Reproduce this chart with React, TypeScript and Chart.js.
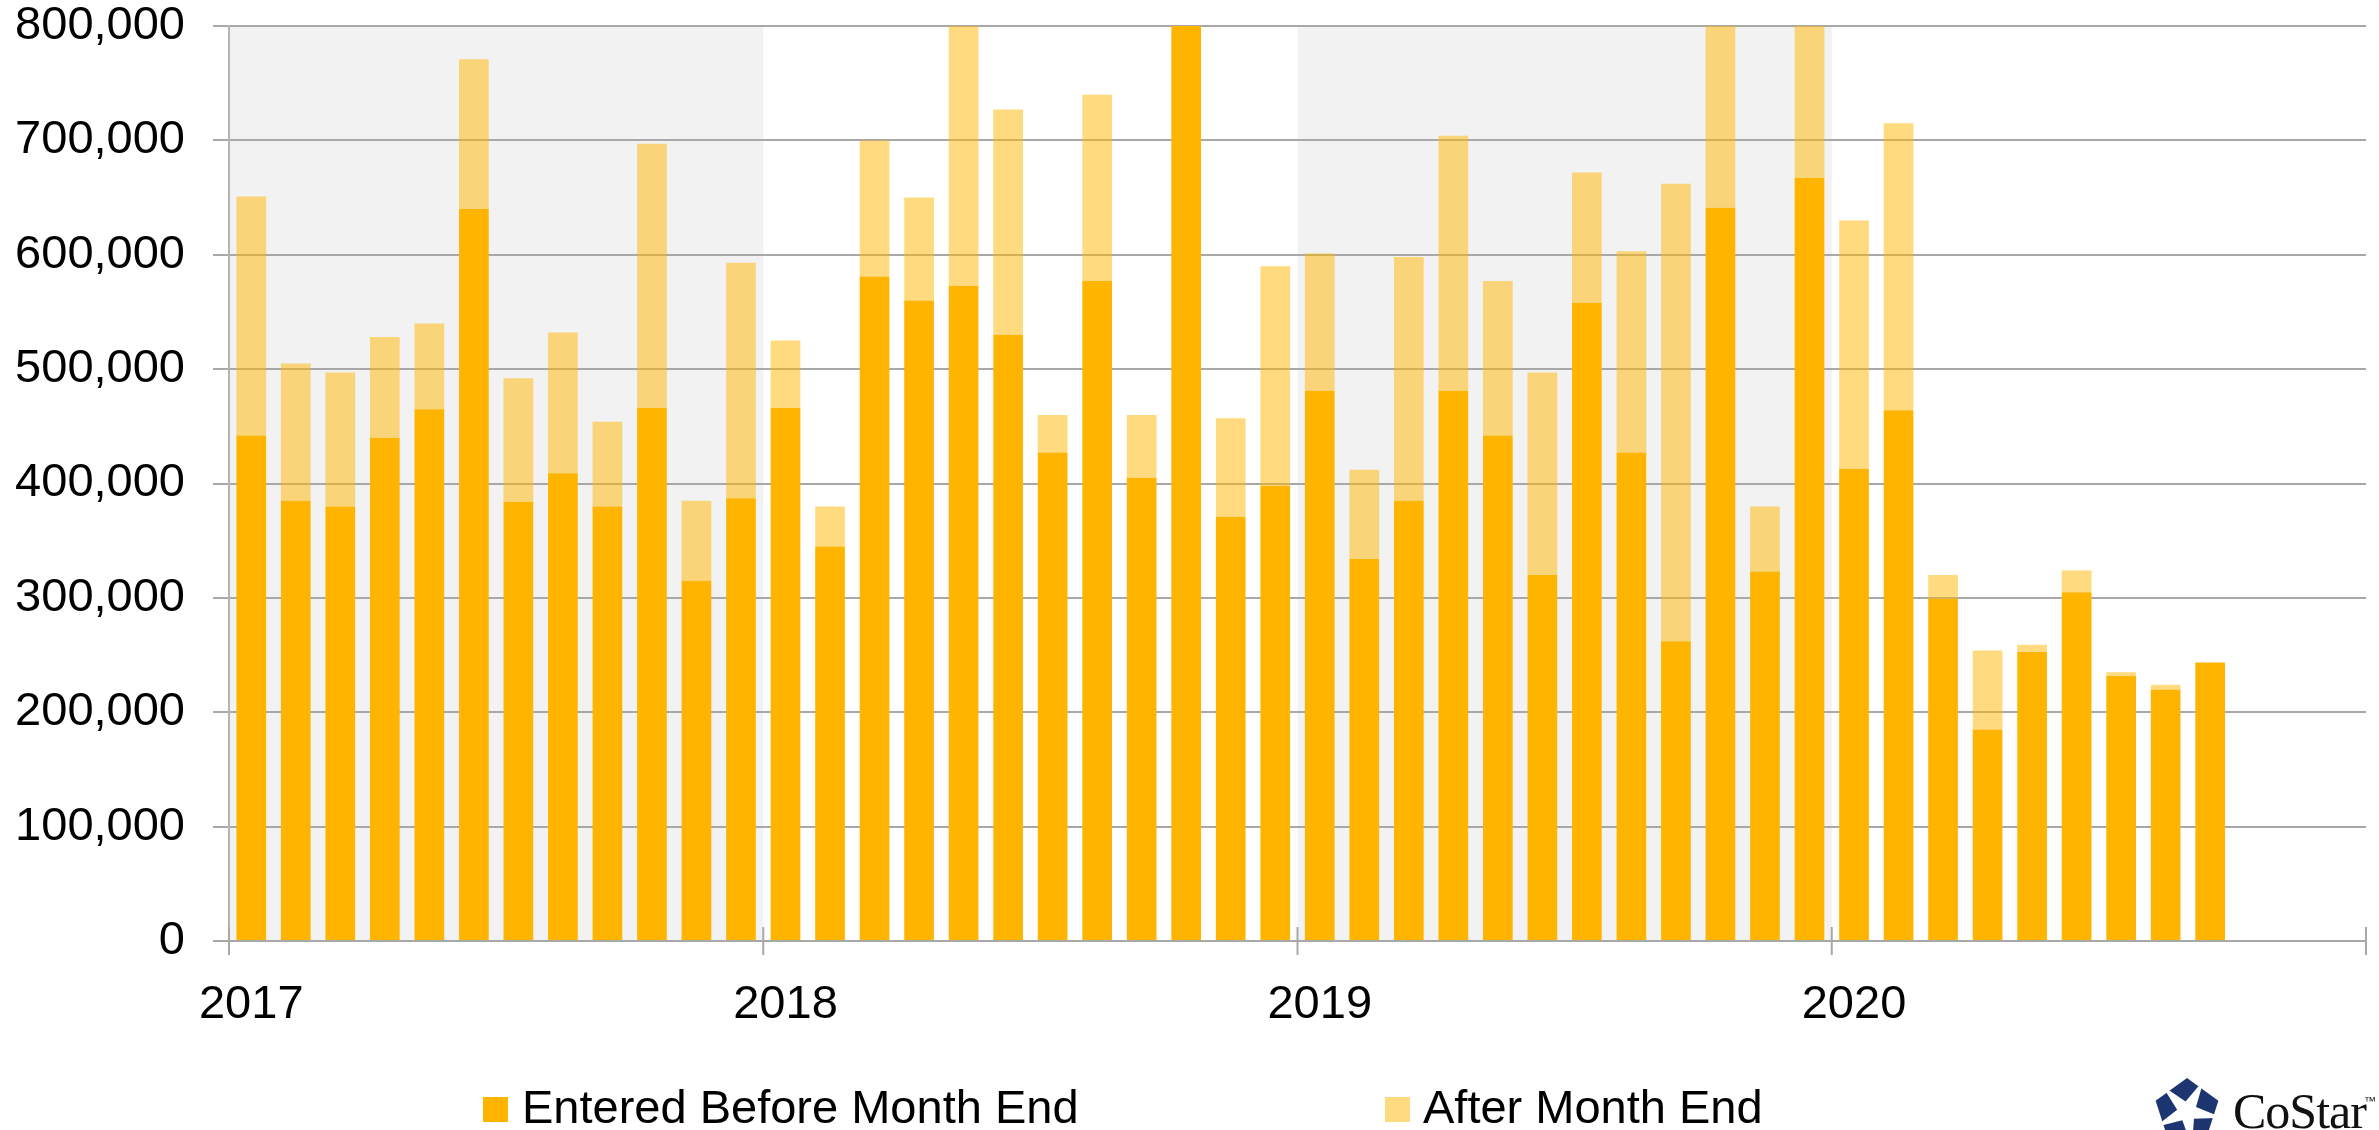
import React, { useEffect, useRef } from 'react';
import { Chart, registerables } from 'chart.js';

Chart.register(...registerables);

const years = ['2017', '2018', '2019', '2020'];
const monthNames = ['Jan', 'Feb', 'Mar', 'Apr', 'May', 'Jun', 'Jul', 'Aug', 'Sep', 'Oct', 'Nov', 'Dec'];
const categories = years.flatMap((y) => monthNames.map((m) => `${m} ${y}`));
const shadedYears = ['2017', '2019'];

const enteredBefore = [
  442000, 385000, 380000, 440000, 465000, 640000, 384000, 409000, 380000, 466000, 315000, 387000,
  466000, 345000, 581000, 560000, 573000, 530000, 427000, 577000, 405000, 845000, 371000, 398000,
  481000, 334000, 385000, 481000, 442000, 320000, 558000, 427000, 262000, 641000, 323000, 667000,
  413000, 464000, 299000, 185000, 253000, 305000, 232000, 220000, 243000,
];
const afterMonthEnd = [
  209000, 120000, 117000, 88000, 75000, 131000, 108000, 123000, 74000, 231000, 70000, 206000,
  59000, 35000, 119000, 90000, 257000, 197000, 33000, 163000, 55000, 20000, 86000, 192000,
  120000, 78000, 213000, 223000, 135000, 177000, 114000, 176000, 400000, 189000, 57000, 163000,
  217000, 251000, 21000, 69000, 6000, 19000, 3000, 4000, 1000,
];

const yTicksMax = 800000;
const yTicksStep = 100000;

const DARK = '#FFB500';
const LIGHT = 'rgba(255,181,0,0.5)';
const GRID = '#A8A8A8';
const FONT = "'Liberation Sans', Arial, sans-serif";

const decorPlugin = {
  id: 'decor',
  beforeDraw(chart: any) {
    const { ctx, chartArea, scales } = chart;
    const x = scales.x;
    const half = (x.getPixelForValue(1) - x.getPixelForValue(0)) / 2;
    ctx.save();
    ctx.fillStyle = '#F2F2F2';
    shadedYears.forEach((yr) => {
      const i0 = years.indexOf(yr) * 12;
      const x0 = x.getPixelForValue(i0) - half;
      const x1 = x.getPixelForValue(i0 + 11) + half;
      ctx.fillRect(x0, chartArea.top, x1 - x0, chartArea.bottom - chartArea.top);
    });
    ctx.restore();
  },
  afterDatasetsDraw(chart: any) {
    const { ctx, chartArea, scales } = chart;
    const x = scales.x;
    const half = (x.getPixelForValue(1) - x.getPixelForValue(0)) / 2;
    ctx.save();
    ctx.strokeStyle = GRID;
    ctx.lineWidth = 2;
    for (let k = 0; k <= years.length; k++) {
      const px = k === years.length ? x.getPixelForValue(k * 12 - 1) + half : x.getPixelForValue(k * 12) - half;
      ctx.beginPath();
      ctx.moveTo(px, chartArea.bottom - 14);
      ctx.lineTo(px, chartArea.bottom + 14);
      ctx.stroke();
    }
    ctx.restore();
  },
};

function starPath(cx: number, cy: number, rOut: number, rIn: number, rot: number) {
  const pts: string[] = [];
  for (let i = 0; i < 10; i++) {
    const r = i % 2 === 0 ? rOut : rIn;
    const a = ((rot + i * 36) * Math.PI) / 180;
    pts.push(`${(cx + r * Math.cos(a)).toFixed(2)},${(cy + r * Math.sin(a)).toFixed(2)}`);
  }
  return pts.join(' ');
}

function pentagon(cx: number, cy: number, r: number) {
  const pts: string[] = [];
  for (let i = 0; i < 5; i++) {
    const a = ((-90 + i * 72) * Math.PI) / 180;
    pts.push(`${(cx + r * Math.cos(a)).toFixed(2)},${(cy + r * Math.sin(a)).toFixed(2)}`);
  }
  return pts.join(' ');
}

export default function App() {
  const canvasRef = useRef<HTMLCanvasElement | null>(null);

  useEffect(() => {
    if (!canvasRef.current) return;
    const chart = new Chart(canvasRef.current, {
      type: 'bar',
      data: {
        labels: categories,
        datasets: [
          {
            label: 'Entered Before Month End',
            data: enteredBefore,
            backgroundColor: DARK,
            borderWidth: 0,
            barPercentage: 0.667,
            categoryPercentage: 1,
          },
          {
            label: 'After Month End',
            data: afterMonthEnd,
            backgroundColor: LIGHT,
            borderWidth: 0,
            barPercentage: 0.667,
            categoryPercentage: 1,
          },
        ],
      },
      options: {
        responsive: false,
        animation: false,
        devicePixelRatio: 1,
        layout: { padding: { left: 0, right: 13, top: 26, bottom: 0 } },
        plugins: {
          legend: { display: false },
          tooltip: { enabled: false },
        },
        scales: {
          x: {
            stacked: true,
            afterFit: (scale: any) => {
              scale.height = 189;
              scale.paddingLeft = 0;
              scale.paddingRight = 0;
            },
            grid: { display: false },
            border: { display: true, color: GRID, width: 2 },
            ticks: {
              autoSkip: false,
              maxRotation: 0,
              minRotation: 0,
              padding: 33,
              color: '#000',
              font: { family: FONT, size: 47, lineHeight: 1 },
              callback: (_v: any, i: number) => (i % 12 === 0 ? years[i / 12] : ''),
            },
          },
          y: {
            stacked: true,
            min: 0,
            max: yTicksMax,
            afterFit: (scale: any) => {
              scale.width = 229;
              scale.paddingTop = 0;
              scale.paddingBottom = 0;
            },
            grid: { color: GRID, lineWidth: 2, tickLength: 16, drawTicks: true },
            border: { display: true, color: '#B5B5B5', width: 2 },
            ticks: {
              stepSize: yTicksStep,
              padding: 28,
              color: '#000',
              font: { family: FONT, size: 47, lineHeight: 1 },
              callback: (v: any) => Number(v).toLocaleString('en-US'),
            },
          },
        },
      },
      plugins: [decorPlugin],
    });
    return () => chart.destroy();
  }, []);

  const legendText: React.CSSProperties = {
    position: 'absolute',
    top: 1083,
    fontFamily: FONT,
    fontSize: 47,
    lineHeight: '47px',
    color: '#000',
    whiteSpace: 'nowrap',
  };
  const swatch: React.CSSProperties = { position: 'absolute', top: 1097, width: 25, height: 25 };

  return (
    <div
      style={{
        position: 'fixed',
        left: 0,
        top: 0,
        width: 2379,
        height: 1130,
        overflow: 'hidden',
        background: '#fff',
      }}
    >
      <canvas ref={canvasRef} width={2379} height={1130} style={{ position: 'absolute', left: 0, top: 0 }} />
      <div style={{ ...swatch, left: 483, background: DARK }} />
      <div style={{ ...legendText, left: 522 }}>Entered Before Month End</div>
      <div style={{ ...swatch, left: 1385, background: '#FEDA80' }} />
      <div style={{ ...legendText, left: 1423 }}>After Month End</div>
      <svg style={{ position: 'absolute', left: 2153, top: 1076 }} width={70} height={70} viewBox="0 0 70 70">
        <polygon points={pentagon(34, 35, 33)} fill="#1D3570" />
        <polygon points={starPath(34, 35.5, 36, 10, -62)} fill="#fff" />
      </svg>
      <div
        style={{
          position: 'absolute',
          left: 2233,
          top: 1086,
          fontFamily: "'Liberation Serif', 'Times New Roman', serif",
          fontSize: 50,
          lineHeight: '50px',
          color: '#111',
          whiteSpace: 'nowrap',
          letterSpacing: -1,
        }}
      >
        CoStar
      </div>
      <div
        style={{
          position: 'absolute',
          left: 2364,
          top: 1095,
          fontFamily: FONT,
          fontSize: 12,
          lineHeight: '12px',
          color: '#111',
        }}
      >
        ™
      </div>
    </div>
  );
}
